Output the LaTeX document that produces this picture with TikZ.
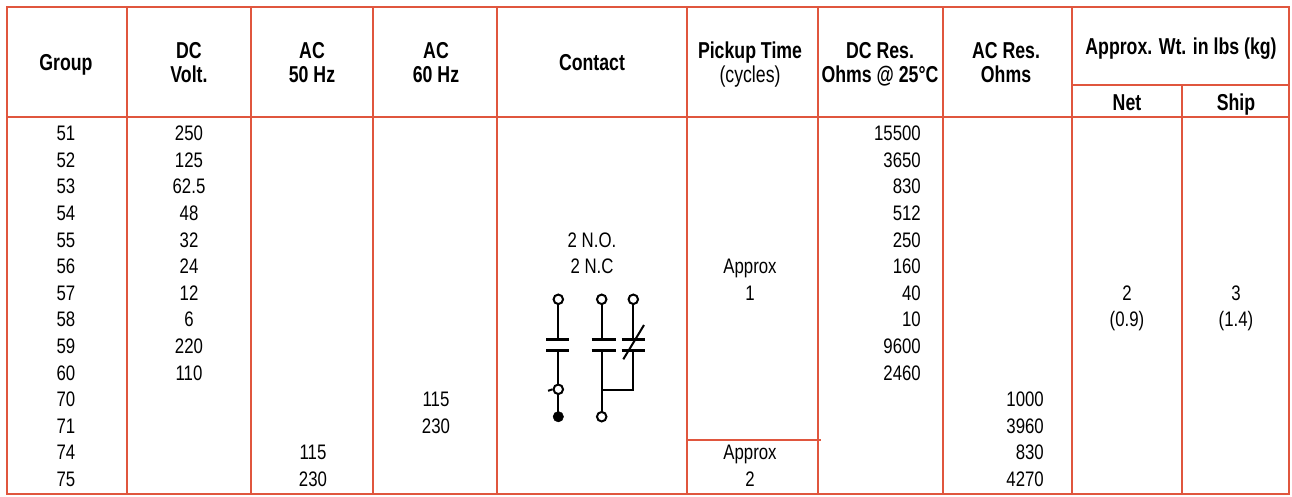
\documentclass[tikz,border=0pt]{standalone}
\usepackage{fontspec}
\setmainfont{Liberation Sans}[FakeStretch=0.8]
\newfontfamily\hfont{Liberation Sans}[FakeStretch=0.77]
\definecolor{rl}{RGB}{224,86,62}
\begin{document}
\begin{tikzpicture}[x=1pt,y=-1pt,
 grid/.style={draw=rl,line width=2.8pt},
 hd/.style={anchor=base,inner sep=0pt,font=\hfont\fontsize{23}{27}\selectfont\bfseries},
 hdr/.style={anchor=base,inner sep=0pt,font=\hfont\fontsize{23}{27}\selectfont},
 bd/.style={anchor=base,inner sep=0pt,font=\fontsize{21}{25}\selectfont},
 bdr/.style={anchor=base east,inner sep=0pt,font=\fontsize{21}{25}\selectfont},
 wire/.style={line width=2pt,black},
 plate/.style={line width=2.8pt,black},
 term/.style={circle,draw=black,line width=2pt,fill=white,inner sep=0pt,minimum size=9.5pt},
 termf/.style={circle,draw=black,fill=black,inner sep=0pt,minimum size=10.5pt}]
\useasboundingbox (0,0) rectangle (1292,496);
% grid
\draw[grid] (7,7) rectangle (1289,494);
\draw[grid] (7,117) -- (1289,117);
\foreach \x in {127,251,373,497,687,818,943,1072} \draw[grid] (\x,7) -- (\x,494);
\draw[grid] (1072,85) -- (1289,85);
\draw[grid] (1182,85) -- (1182,494);
\draw[grid] (687,440) -- (821,440);
% headers
\node[hd] (hGroup) at (66,70.5) {Group};
\node[hd] (hDC1) at (189,58) {DC};
\node[hd] (hDC2) at (189,82.5) {Volt.};
\node[hd] (hA1) at (312,58) {AC};
\node[hd] (hA2) at (312,82.5) {50 Hz};
\node[hd] (hB1) at (436,58) {AC};
\node[hd] (hB2) at (436,82.5) {60 Hz};
\node[hd] (hCon) at (592,70) {Contact};
\node[hd] (hP1) at (750,58) {Pickup Time};
\node[hdr] (hP2) at (750,82) {(cycles)};
\node[hd] (hR1) at (880,58) {DC Res.};
\node[hd] (hR2) at (880,82) {Ohms @ 25°C};
\node[hd] (hS1) at (1006,58) {AC Res.};
\node[hd] (hS2) at (1006,82) {Ohms};
\node[hd] (hW) at (1181,54) {Approx. Wt. in lbs (kg)};
\node[hd] (hNet) at (1127,110) {Net};
\node[hd] (hShip) at (1236,110) {Ship};
% body
\foreach \v [count=\i from 0] in {51,52,53,54,55,56,57,58,59,60,70,71,74,75}
  \node[bd] (g\i) at (66,140.7+26.6*\i) {\v};
\foreach \v [count=\i from 0] in {250,125,62.5,48,32,24,12,6,220,110}
  \node[bd] (dv\i) at (189,140.7+26.6*\i) {\v};
\foreach \v [count=\i from 0] in {15500,3650,830,512,250,160,40,10,9600,2460}
  \node[bdr] (dr\i) at (921,140.7+26.6*\i) {\v};
\foreach \v [count=\i from 10] in {1000,3960,830,4270}
  \node[bdr] (ar\i) at (1044,140.7+26.6*\i) {\v};
\node[bd] (b60a) at (436,140.7+26.6*10) {115};
\node[bd] (b60b) at (436,140.7+26.6*11) {230};
\node[bd] (b50a) at (313,140.7+26.6*12) {115};
\node[bd] (b50b) at (313,140.7+26.6*13) {230};
\node[bd] (cNO) at (592,140.7+26.6*4) {2 N.O.};
\node[bd] (cNC) at (592,140.7+26.6*5) {2 N.C};
\node[bd] (p1a) at (750,140.7+26.6*5) {Approx};
\node[bd] (p1b) at (750,140.7+26.6*6) {1};
\node[bd] (p2a) at (750,140.7+26.6*12) {Approx};
\node[bd] (p2b) at (750,140.7+26.6*13) {2};
\node[bd] (n1) at (1127,140.7+26.6*6) {2};
\node[bd] (n2) at (1127,140.7+26.6*7) {(0.9)};
\node[bd] (s1) at (1236,140.7+26.6*6) {3};
\node[bd] (s2) at (1236,140.7+26.6*7) {(1.4)};
% contact symbol
\coordinate (La) at (558.3,339.3);
\coordinate (Lb) at (558.3,350.7);
\coordinate (Ma) at (601.7,339.3);
\coordinate (Mb) at (601.7,350.7);
\coordinate (Mj) at (601.7,390);
\coordinate (Rj) at (633.3,390);
\coordinate (Ra) at (633.3,339.3);
\coordinate (Rb) at (633.3,350.7);
\draw[wire] (558.3,299.3) -- (La);
\draw[wire] (Lb) -- (558.3,416.7);
\draw[wire] (601.7,299.3) -- (Ma);
\draw[wire] (Mb) -- (601.7,416.7);
\draw[wire] (633.3,299.3) -- (Ra);
\draw[wire] (Mj) -- (Rj) -- (Rb);
\draw[plate] (546,339.3) -- (569.3,339.3);
\draw[plate] (546,350.7) -- (569.3,350.7);
\draw[plate] (591.7,339.3) -- (616,339.3);
\draw[plate] (591.7,350.7) -- (616,350.7);
\draw[plate] (621.7,339.3) -- (645,339.3);
\draw[plate] (621.7,350.7) -- (645,350.7);
\draw[wire] (623.3,359.3) -- (644,325);
\node[term] (t1) at (558.3,299.3) {};
\node[term] (t2) at (601.7,299.3) {};
\node[term] (t3) at (633.3,299.3) {};
\node[term] (t4) at (558.3,389.3) {};
\node[termf] (t5) at (558.3,416.7) {};
\node[term] (t6) at (601.7,416.7) {};
\draw[wire] (t4.west) -- ++(-4.5,1.5);
\end{tikzpicture}
\end{document}
